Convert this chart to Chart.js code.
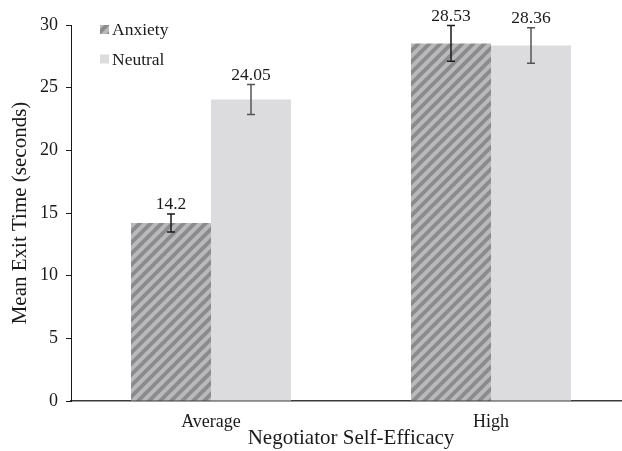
<!DOCTYPE html>
<html>
<head>
<meta charset="utf-8">
<script src="https://cdn.jsdelivr.net/npm/chart.js@4.4.0/dist/chart.umd.min.js"></script>
<style>
html,body{margin:0;padding:0;background:#fff;overflow:hidden;}
#wrap{width:640px;height:451px;position:relative;}
</style>
</head>
<body>
<div id="wrap"><canvas id="c" width="640" height="451"></canvas></div>
<script>
const categories = ["Average", "High"];
const seriesNames = ["Anxiety", "Neutral"];
const anxietyValues = [14.2, 28.53];
const neutralValues = [24.05, 28.36];
const anxietyErrors = [0.72, 1.43];
const neutralErrors = [1.2, 1.42];
const yTicks = [0, 5, 10, 15, 20, 25, 30];

const FONT = "'Liberation Serif', 'Times New Roman', serif";

function makeHatch() {
  const s = 11;
  const p = document.createElement('canvas');
  p.width = s; p.height = s;
  const g = p.getContext('2d');
  g.fillStyle = '#b9b9bb';
  g.fillRect(0, 0, s, s);
  g.strokeStyle = '#8b8b8d';
  g.lineWidth = 3.8;
  g.beginPath();
  for (let k = -1; k <= 1; k++) {
    g.moveTo(k * s - 1, s + 1);
    g.lineTo(k * s + s + 1, -1);
  }
  g.stroke();
  return document.getElementById('c').getContext('2d').createPattern(p, 'repeat');
}
const hatch = makeHatch();

const errorPlugin = {
  id: 'errs',
  afterDatasetsDraw(chart) {
    const ctx = chart.ctx;
    const y = chart.scales.y;
    const sets = [
      {vals: anxietyValues, errs: anxietyErrors, color: '#1a1a1a'},
      {vals: neutralValues, errs: neutralErrors, color: '#555555'}
    ];
    sets.forEach((s, di) => {
      const meta = chart.getDatasetMeta(di);
      meta.data.forEach((bar, i) => {
        const x = bar.x;
        const top = y.getPixelForValue(s.vals[i] + s.errs[i]);
        const bot = y.getPixelForValue(s.vals[i] - s.errs[i]);
        ctx.save();
        ctx.strokeStyle = s.color;
        ctx.lineWidth = 1.5;
        ctx.beginPath();
        ctx.moveTo(x, top); ctx.lineTo(x, bot);
        ctx.moveTo(x - 4, top); ctx.lineTo(x + 4, top);
        ctx.moveTo(x - 4, bot); ctx.lineTo(x + 4, bot);
        ctx.stroke();
        ctx.fillStyle = '#1a1a1a';
        ctx.font = '17.5px ' + FONT;
        ctx.textAlign = 'center';
        ctx.textBaseline = 'alphabetic';
        ctx.fillText(String(s.vals[i]), x, top - 5);
        ctx.restore();
      });
    });
    // legend
    ctx.save();
    ctx.font = '17.5px ' + FONT;
    ctx.textBaseline = 'middle';
    ctx.textAlign = 'left';
    const fills = [hatch, '#dcdcde'];
    seriesNames.forEach((n, i) => {
      const cy = 29.5 + i * 29.5;
      ctx.fillStyle = fills[i];
      ctx.fillRect(100, cy - 4.5, 9, 9);
      ctx.fillStyle = '#1a1a1a';
      ctx.fillText(n, 112, cy + 1);
    });
    ctx.restore();
  }
};

new Chart(document.getElementById('c'), {
  type: 'bar',
  data: {
    labels: categories,
    datasets: [
      {label: seriesNames[0], data: anxietyValues, backgroundColor: hatch, borderWidth: 0},
      {label: seriesNames[1], data: neutralValues, backgroundColor: '#dcdcde', borderWidth: 0}
    ]
  },
  options: {
    responsive: false,
    animation: false,
    devicePixelRatio: 1,
    layout: {padding: {top: 25, right: 9, left: 0, bottom: 0}},
    datasets: {bar: {categoryPercentage: 160 / 280, barPercentage: 1}},
    plugins: {legend: {display: false}, tooltip: {enabled: false}},
    scales: {
      x: {
        grid: {display: false, drawTicks: false},
        border: {display: true, color: '#3a3a3a', width: 1.5},
        ticks: {color: '#1a1a1a', font: {family: FONT, size: 18}, padding: 10},
        title: {display: true, text: 'Negotiator Self-Efficacy', color: '#1a1a1a', font: {family: FONT, size: 21}, padding: {top: 0, bottom: 0}},
        afterFit(s) { s.height = 50; }
      },
      y: {
        min: 0, max: 30,
        afterBuildTicks(s) { s.ticks = yTicks.map(v => ({value: v})); },
        grid: {display: true, drawOnChartArea: false, drawTicks: true, tickLength: 5, color: '#1a1a1a', tickWidth: 1},
        border: {display: true, color: '#1a1a1a', width: 1},
        ticks: {color: '#1a1a1a', font: {family: FONT, size: 18}, padding: 8},
        title: {display: true, text: 'Mean Exit Time (seconds)', color: '#1a1a1a', font: {family: FONT, size: 21}, padding: {top: 8, bottom: 0}},
        afterFit(s) { s.width = 71; }
      }
    }
  },
  plugins: [errorPlugin]
});
</script>
</body>
</html>
